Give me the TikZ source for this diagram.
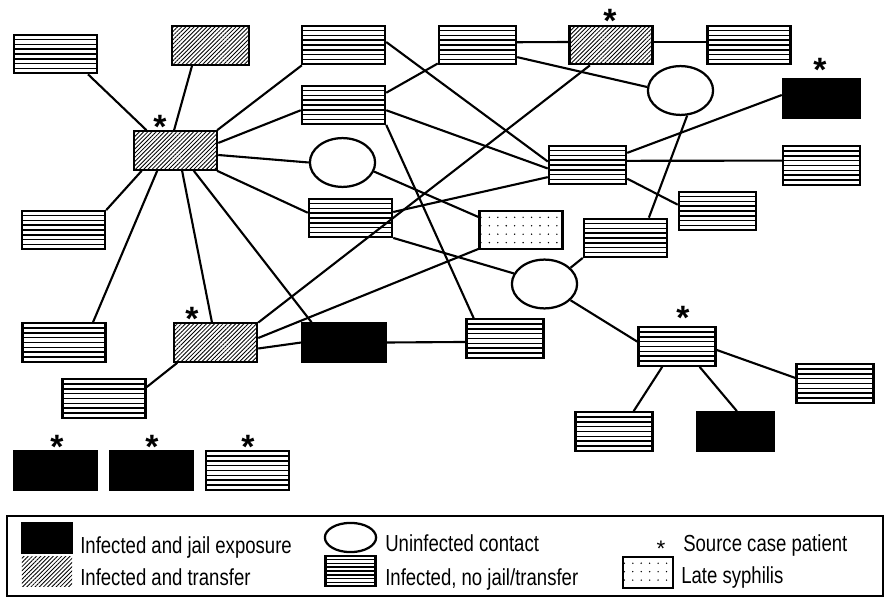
\documentclass[tikz,border=0pt]{standalone}
\usepackage{fontspec}
\setmainfont{Liberation Sans}
\newfontfamily\legendfont{Liberation Sans}[FakeStretch=0.8]
\usetikzlibrary{shapes.geometric,patterns.meta,calc}

\begin{document}
\begin{tikzpicture}[x=0.025cm, y=-0.025cm,
		box/.style = {draw, line width=1.6pt, minimum height=0.96cm, inner sep=0pt, preaction={fill=white}},
		wide/.style = {minimum width=2.08cm},
		slim/.style = {minimum width=1.93cm},
		keybox/.style = {minimum width=1.25cm, minimum height=0.76cm},
		infected/.style = {box, path picture={
				\foreach \k in {1,...,7}
				\draw[line width=1pt] ($(path picture bounding box.south west)!\k/8!(path picture bounding box.north west)$)
				-- ($(path picture bounding box.south east)!\k/8!(path picture bounding box.north east)$);}},
		transfer/.style = {box, pattern={Lines[angle=45,distance=2.1pt,line width=0.6pt]}},
		jail/.style = {box, fill=black},
		late/.style = {box, pattern={Dots[distance=6pt,radius=0.55pt]}},
		contact/.style = {draw, ellipse, line width=1.6pt, minimum width=1.63cm, minimum height=1.22cm, inner sep=0pt, fill=white},
		source/.style = {font=\bfseries\fontsize{24}{24}\selectfont, inner sep=0pt, anchor=north},
		legend/.style = {font=\legendfont\fontsize{16.5}{18}\selectfont, inner sep=0pt, anchor=base west},
		link/.style = {line width=1.5pt},]
		
		\useasboundingbox (0,0) rectangle (884,597);
		
		\node[infected, wide] (P1) at (55.5,54) {};
		\node[transfer, slim] (P2) at (210.5,45.5) {};
		\node[transfer, wide] (P3) at (175.5,150.5) {};
		\node[infected, wide] (P4) at (343.5,45) {};
		\node[infected, wide] (P5) at (343.5,105) {};
		\node[contact] (U1) at (342.5,162.5) {};
		\node[infected, wide] (P6) at (350.5,218) {};
		\node[infected, wide] (P7) at (63.5,230) {};
		\node[infected, slim] (P8) at (477.5,45) {};
		\node[transfer, wide] (P9) at (611,45) {};
		\node[infected, wide] (P10) at (749,45) {};
		\node[contact] (U2) at (680.5,90.5) {};
		\node[jail, slim] (P11) at (821.5,98.5) {};
		\node[infected, slim] (P12) at (587.5,165) {};
		\node[infected, slim] (P13) at (821.5,165.5) {};
		\node[infected, slim] (P14) at (717.5,211) {};
		\node[late, wide] (P15) at (521,230) {};
		\node[infected, wide] (P16) at (625.5,238) {};
		\node[contact] (U3) at (544.5,284) {};
		\node[infected, slim] (P17) at (677,346.5) {};
		\node[infected, slim] (P18) at (835,383.5) {};
		\node[infected, slim] (P19) at (614,431.5) {};
		\node[jail, slim] (P20) at (735.5,431.5) {};
		\node[infected, slim] (P21) at (505,338.5) {};
		\node[infected, wide] (P22) at (64,342.5) {};
		\node[transfer, wide] (P23) at (215.5,342.5) {};
		\node[jail, wide] (P24) at (344,342.5) {};
		\node[infected, wide] (P25) at (104,398.5) {};
		\node[jail, wide] (P26) at (55.5,470.5) {};
		\node[jail, wide] (P27) at (151.5,470.5) {};
		\node[infected, wide] (P28) at (247.5,470.5) {};
		
		\node[source] (S1) at (160,115) {*};
		\node[source] (S2) at (610,9) {*};
		\node[source] (S3) at (820,58) {*};
		\node[source] (S4) at (683,306) {*};
		\node[source] (S5) at (192,307) {*};
		\node[source] (S6) at (57,435) {*};
		\node[source] (S7) at (152,435) {*};
		\node[source] (S8) at (248,435) {*};
		
		\draw[link] (P1.-32) -- (P3.145);
		\draw[link] (P2.-133) -- (P3.94);
		\draw[link] (P3.26) -- (P4.-154);
		\draw[link] (P3.10) -- (P5.-173);
		\draw[link] (P3.-6) -- (U1.west);
		\draw[link] (P3.-26) -- (P6.173);
		\draw[link] (P3.-149) -- (P7.25);
		\draw[link] (P3.-132) -- (P22.35);
		\draw[link] (P3.-72) -- (P23.100);
		\draw[link] (P3.-48) -- (P24.148);
		\draw[link] (P4.4) -- (P12.175);
		\draw[link] (P5.16) -- (P8.-155);
		\draw[link] (P5.-7) -- (P12.185);
		\draw[link] (P5.-25) -- (P21.147);
		\draw[link] (U1.-16) -- (P15.163);
		\draw[link] (P6.8) -- (P12.197);
		\draw[link] (P6.-25) -- (U3.161);
		\draw[link] (P8.4) -- (P9.176);
		\draw[link] (P9.4) -- (P10.176);
		\draw[link] (P8.-17) -- (U2.174);
		\draw[link] (P9.-136) -- (P23.25);
		\draw[link] (U2.-75) -- (P16.41);
		\draw[link] (P11.175) -- (P12.17);
		\draw[link] (P12.6) -- (P13.173);
		\draw[link] (P12.-19) -- (P14.171);
		\draw[link] (P15.-156) -- (P23.6);
		\draw[link] (U3.32) -- (P16.-155);
		\draw[link] (U3.-32) -- (P17.173);
		\draw[link] (P17.-5) -- (P18.172);
		\draw[link] (P17.-126) -- (P19.46);
		\draw[link] (P17.-42) -- (P20.86);
		\draw[link] (P23.-8) -- (P24.180);
		\draw[link] (P24.0) -- (P21.185);
		\draw[link] (P23.-152) -- (P25.15);
		
		% legend
		\draw[line width=0.9pt] (7,516) rectangle (883,596);
		\node[jail, keybox] (K1) at (47,538) {};
		\node[transfer, keybox, draw=none] (K2) at (47,571.5) {};
		\node[contact, minimum width=1.28cm, minimum height=0.73cm] (K3) at (350.5,537.5) {};
		\node[infected, keybox] (K4) at (350.5,571) {};
		\node[source, font=\fontsize{16}{16}\selectfont] (K5) at (661,541) {*};
		\node[late, keybox] (K6) at (648,572.5) {};
		\node[legend] (T1) at (80,554) {Infected and jail exposure};
		\node[legend] (T2) at (80,585) {Infected and transfer};
		\node[legend] (T3) at (385,552) {Uninfected contact};
		\node[legend] (T4) at (385,585) {Infected, no jail/transfer};
		\node[legend] (T5) at (683,551) {Source case patient};
		\node[legend] (T6) at (681,583) {Late syphilis};
		
	\end{tikzpicture}
\end{document}
